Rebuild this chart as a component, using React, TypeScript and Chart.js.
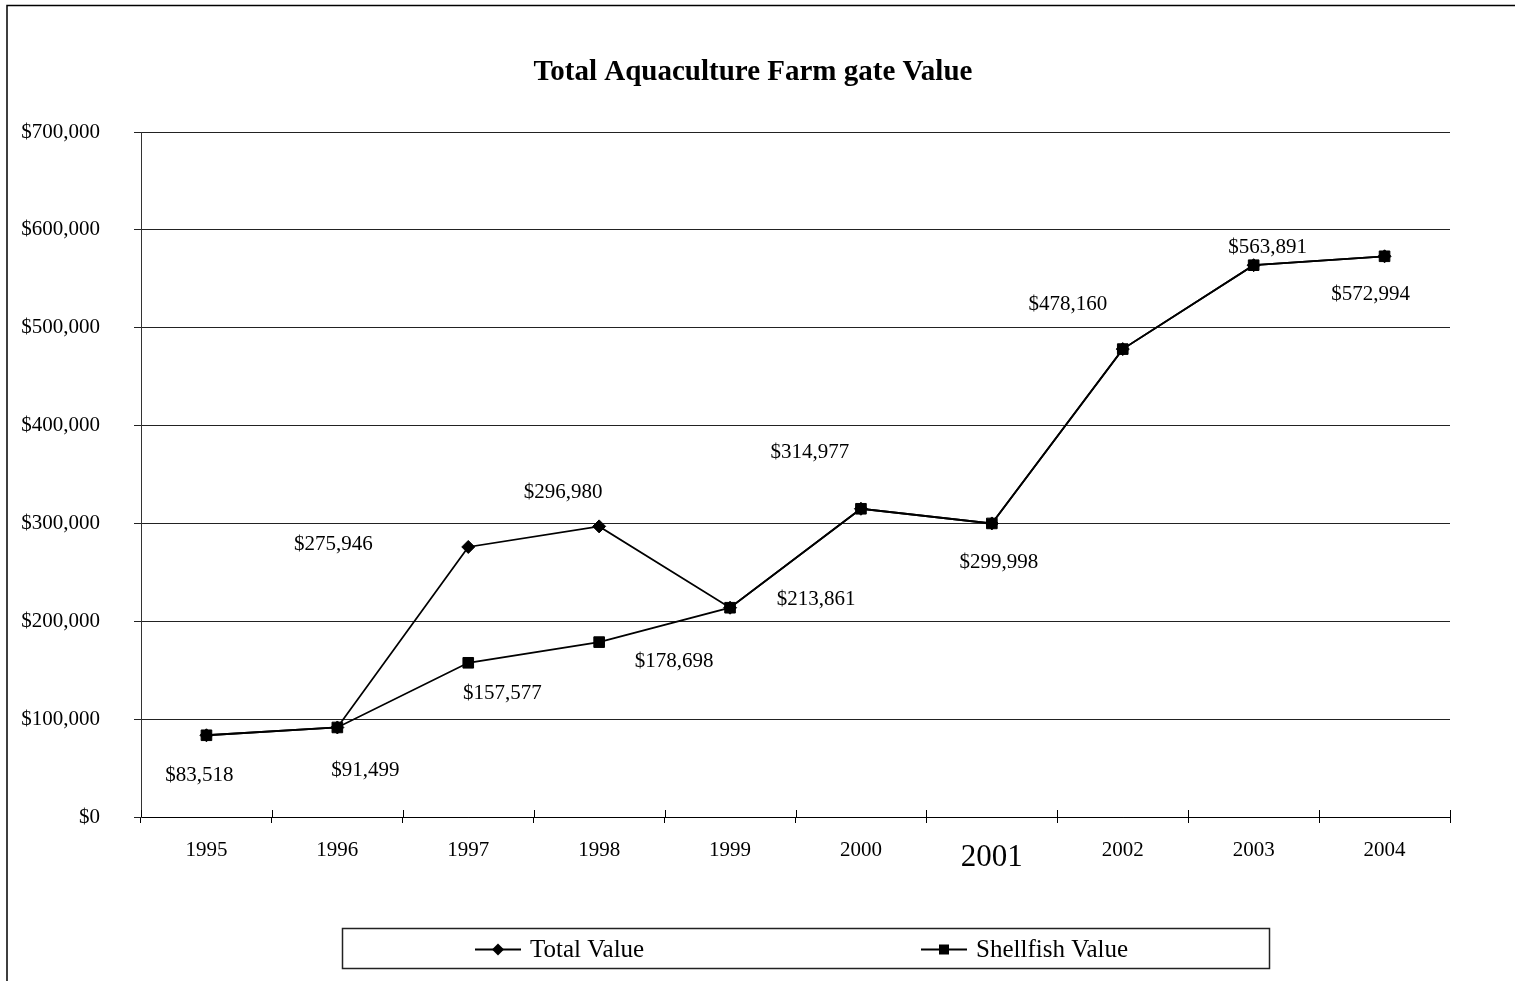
import React, { useEffect, useRef } from "react";
import { Chart, registerables } from "chart.js";

Chart.register(...registerables);

// Years on the category axis
const years = ["1995", "1996", "1997", "1998", "1999", "2000", "2001", "2002", "2003", "2004"];

// Farm gate values in dollars
const totalValue = [83518, 91499, 275946, 296980, 213861, 314977, 299998, 478160, 563891, 572994];
const shellfishValue = [83518, 91499, 157577, 178698, 213861, 314977, 299998, 478160, 563891, 572994];

// Value axis ticks
const yTicks = [0, 100000, 200000, 300000, 400000, 500000, 600000, 700000];

// Where each value label sits relative to its point (px); null = no label
const totalLabelOffsets: ([number, number] | null)[] = [
  [-7, 40], [28, 43], [-135, -2], [-36, -34], [86, -8],
  [-51, -56], [7, 39], [-55, -45], [14, -18], [-14, 38],
];
const shellfishLabelOffsets: ([number, number] | null)[] = [
  null, null, [34, 31], [75, 19], null, null, null, null, null, null,
];

const FONT = "'Liberation Serif', 'Times New Roman', serif";
const money = (v: number) => "$" + v.toLocaleString("en-US");

const framePlugin = {
  id: "frame",
  beforeDraw(chart: any) {
    const ctx = chart.ctx;
    ctx.save();
    ctx.fillStyle = "#fff";
    ctx.fillRect(0, 0, chart.width, chart.height);
    ctx.strokeStyle = "#000";
    ctx.lineWidth = 1.5;
    ctx.beginPath();
    ctx.moveTo(7, chart.height);
    ctx.lineTo(7, 5.5);
    ctx.lineTo(chart.width, 5.5);
    ctx.stroke();
    ctx.restore();
  },
};

const titlePlugin = {
  id: "titleText",
  afterDraw(chart: any) {
    const ctx = chart.ctx;
    ctx.save();
    ctx.fillStyle = "#000";
    ctx.font = `bold 29px ${FONT}`;
    ctx.textAlign = "center";
    ctx.textBaseline = "alphabetic";
    ctx.fillText("Total Aquaculture Farm gate Value", 753, 80);
    ctx.restore();
  },
};

// Category-axis tick marks cross the axis line, so add the upper half
const crossTicksPlugin = {
  id: "crossTicks",
  afterDraw(chart: any) {
    const xs = chart.scales.x;
    const ctx = chart.ctx;
    const n = years.length;
    const half = (xs.getPixelForValue(1) - xs.getPixelForValue(0)) / 2;
    ctx.save();
    ctx.strokeStyle = "#000";
    ctx.lineWidth = 1;
    ctx.beginPath();
    for (let i = 0; i <= n; i++) {
      const x = Math.round(xs.getPixelForValue(0) - half + i * 2 * half) + 0.5;
      ctx.moveTo(x, xs.top - 7);
      ctx.lineTo(x, xs.top);
    }
    ctx.stroke();
    ctx.restore();
  },
};

const valueLabelsPlugin = {
  id: "valueLabels",
  afterDatasetsDraw(chart: any) {
    const ctx = chart.ctx;
    ctx.save();
    ctx.fillStyle = "#000";
    ctx.font = `21px ${FONT}`;
    ctx.textAlign = "center";
    ctx.textBaseline = "middle";
    chart.data.datasets.forEach((ds: any, di: number) => {
      const meta = chart.getDatasetMeta(di);
      const offsets = ds.labelOffsets as ([number, number] | null)[];
      meta.data.forEach((pt: any, i: number) => {
        const off = offsets[i];
        if (!off) return;
        ctx.fillText(money(ds.data[i]), pt.x + off[0], pt.y + off[1]);
      });
    });
    ctx.restore();
  },
};

function drawMarker(ctx: CanvasRenderingContext2D, style: string, x: number, y: number) {
  ctx.beginPath();
  if (style === "rectRot") {
    ctx.moveTo(x, y - 6);
    ctx.lineTo(x + 6, y);
    ctx.lineTo(x, y + 6);
    ctx.lineTo(x - 6, y);
  } else {
    ctx.rect(x - 5, y - 5, 10, 10);
  }
  ctx.closePath();
  ctx.fill();
}

const legendPlugin = {
  id: "boxLegend",
  afterDraw(chart: any) {
    const ctx = chart.ctx;
    const entries = [
      { ds: chart.data.datasets[0], x: 475 },
      { ds: chart.data.datasets[1], x: 921 },
    ];
    ctx.save();
    ctx.strokeStyle = "#222";
    ctx.lineWidth = 1.5;
    ctx.strokeRect(342.5, 928.5, 927, 40);
    const y = 949.5;
    entries.forEach(({ ds, x }) => {
      ctx.strokeStyle = "#000";
      ctx.fillStyle = "#000";
      ctx.lineWidth = 2;
      ctx.beginPath();
      ctx.moveTo(x, y);
      ctx.lineTo(x + 46, y);
      ctx.stroke();
      drawMarker(ctx, ds.pointStyle, x + 23, y);
      ctx.font = `25px ${FONT}`;
      ctx.textAlign = "left";
      ctx.textBaseline = "middle";
      ctx.fillText(ds.label, x + 55, y + 1);
    });
    ctx.restore();
  },
};

export default function App() {
  const canvasRef = useRef<HTMLCanvasElement | null>(null);

  useEffect(() => {
    document.body.style.margin = "0";
    const canvas = canvasRef.current;
    if (!canvas) return;
    const chart = new Chart(canvas, {
      type: "line",
      data: {
        labels: years,
        datasets: [
          {
            label: "Total Value",
            data: totalValue,
            borderColor: "#000",
            backgroundColor: "#000",
            borderWidth: 1.8,
            pointStyle: "rectRot",
            pointRadius: 6.5,
            pointBorderWidth: 1,
            pointBackgroundColor: "#000",
            pointBorderColor: "#000",
            tension: 0,
            order: 2,
            labelOffsets: totalLabelOffsets,
          } as any,
          {
            label: "Shellfish Value",
            data: shellfishValue,
            borderColor: "#000",
            backgroundColor: "#000",
            borderWidth: 1.8,
            pointStyle: "rect",
            pointRadius: 7.5,
            pointBorderWidth: 1,
            pointBackgroundColor: "#000",
            pointBorderColor: "#000",
            tension: 0,
            order: 1,
            labelOffsets: shellfishLabelOffsets,
          } as any,
        ],
      },
      options: {
        responsive: false,
        animation: false,
        devicePixelRatio: 1,
        layout: { padding: { left: 0, top: 132, right: 65, bottom: 0 } },
        plugins: {
          legend: { display: false },
          title: { display: false },
          tooltip: { enabled: false },
        },
        scales: {
          x: {
            type: "category",
            offset: true,
            grid: {
              offset: true,
              drawOnChartArea: false,
              drawTicks: true,
              tickLength: 6,
              color: "#000",
              lineWidth: 1,
            },
            border: { display: true, color: "#000", width: 1 },
            ticks: {
              color: "#000",
              autoSkip: false,
              maxRotation: 0,
              padding: 15,
              font: (ctx: any) =>
                ctx.tick && ctx.tick.label === "2001"
                  ? { family: FONT, size: 31, lineHeight: 1.25 }
                  : { family: FONT, size: 21, lineHeight: 1.2 },
            },
            afterFit(scale: any) {
              scale.height = 164;
            },
          },
          y: {
            min: 0,
            max: 700000,
            afterBuildTicks(scale: any) {
              scale.ticks = yTicks.map((v) => ({ value: v }));
            },
            grid: {
              color: "#222",
              lineWidth: 1,
              drawTicks: true,
              tickLength: 7,
            },
            border: { display: true, color: "#333", width: 1 },
            ticks: {
              color: "#000",
              padding: 34,
              font: { family: FONT, size: 21 },
              callback: (v: any) => money(Number(v)),
            },
            afterFit(scale: any) {
              scale.width = 141;
            },
          },
        },
      } as any,
      plugins: [framePlugin, titlePlugin, crossTicksPlugin, valueLabelsPlugin, legendPlugin],
    });
    return () => chart.destroy();
  }, []);

  return (
    <div style={{ width: 1515, height: 981, position: "relative" }}>
      <canvas ref={canvasRef} width={1515} height={981} style={{ display: "block", width: 1515, height: 981 }} />
    </div>
  );
}
